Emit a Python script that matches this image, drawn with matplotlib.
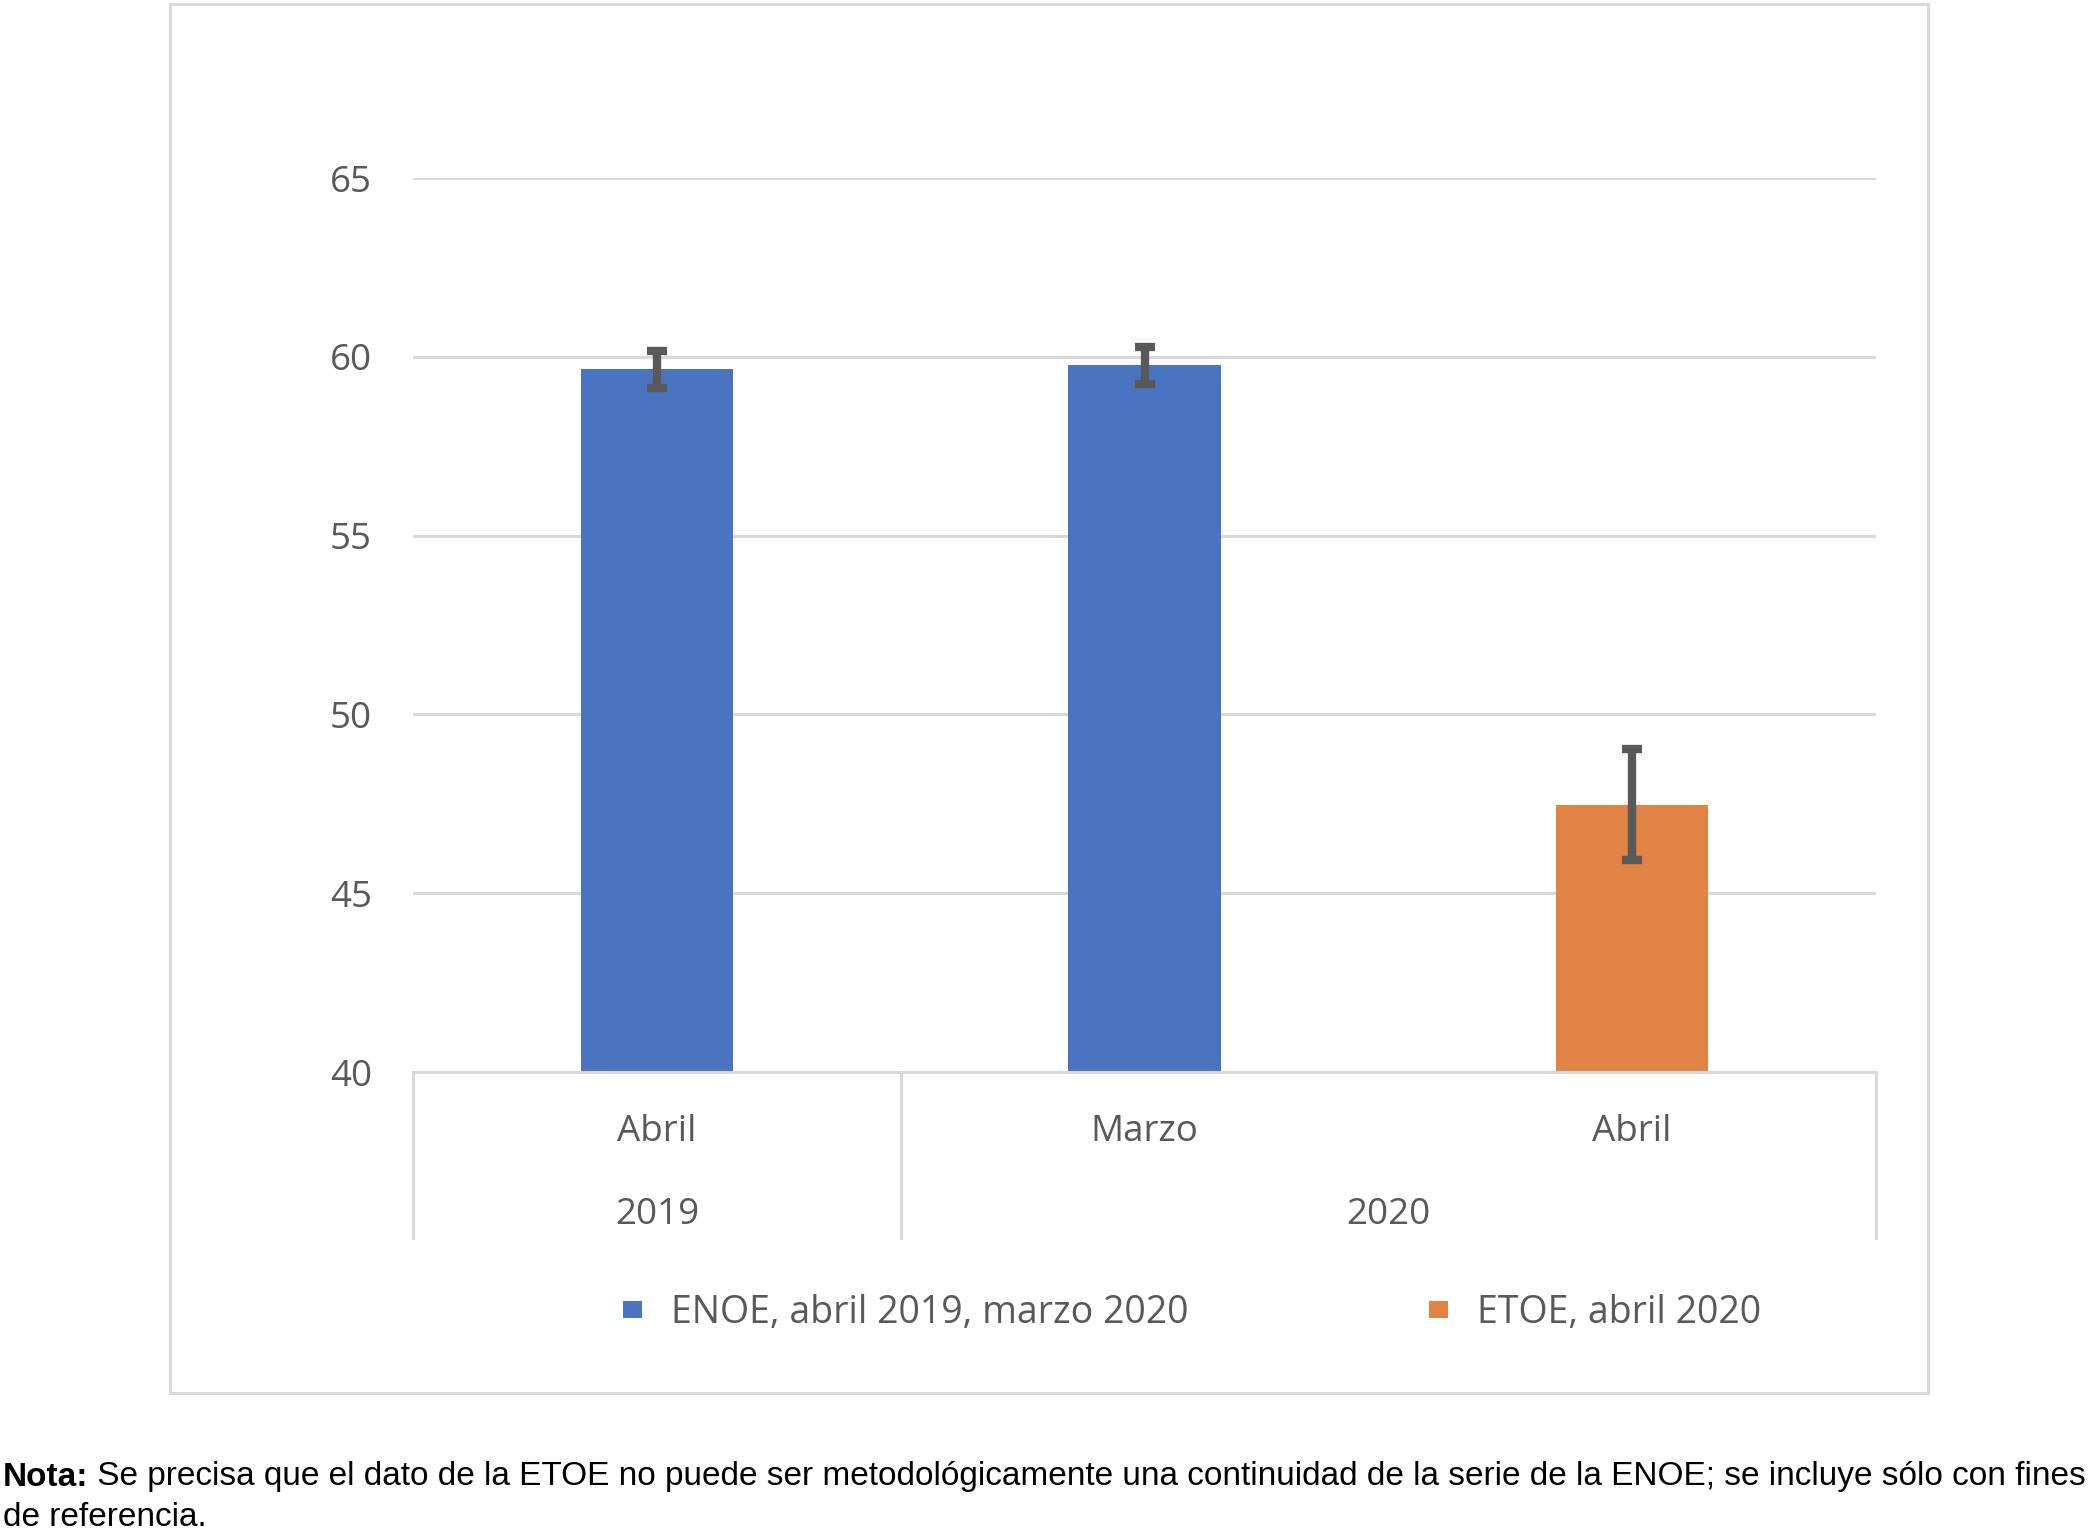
import matplotlib
matplotlib.use("Agg")
import matplotlib.pyplot as plt
from matplotlib.patches import Patch, Rectangle
from matplotlib.lines import Line2D

# ---- data ----
months = ["Abril", "Marzo", "Abril"]
years = ["2019", "2020"]
year_span = [(0, 0), (1, 2)]          # category index range of each year
values = [59.65, 59.76, 47.47]
errors = [0.52, 0.52, 1.55]
series = ["ENOE", "ENOE", "ETOE"]
legend_labels = ["ENOE, abril 2019, marzo 2020", "ETOE, abril 2020"]
yticks = [40, 45, 50, 55, 60, 65]
note_bold = "Nota:"
note_line1 = " Se precisa que el dato de la ETOE no puede ser metodológicamente una continuidad de la serie de la ENOE; se incluye sólo con fines"
note_line2 = "de referencia."

# ---- style ----
W, H, DPI = 2098, 1536, 100
BLUE = "#4a74bf"
ORANGE = "#e08344"
GRID = "#d9d9d9"
TXT = "#595959"
colors = {"ENOE": BLUE, "ETOE": ORANGE}

fig = plt.figure(figsize=(W / DPI, H / DPI), dpi=DPI)
plt.rcParams["font.family"] = ["Open Sans", "DejaVu Sans"]

def fx(px):
    return px / W

def fy(py):
    return 1 - py / H

# outer chart frame
fig.patches.append(Rectangle((fx(170), fy(1393)), fx(1928) - fx(170), fy(4) - fy(1393),
                             transform=fig.transFigure, fill=False, edgecolor=GRID,
                             linewidth=2.2, zorder=0))

left, right, top, bottom = 413, 1876, 178, 1072
ax = fig.add_axes([fx(left), fy(bottom), fx(right) - fx(left), fy(top) - fy(bottom)])

x = list(range(len(values)))
ax.bar(x, values, width=0.313, color=[colors[s] for s in series], zorder=2)
ax.errorbar(x, values, yerr=errors, fmt="none", ecolor=TXT, elinewidth=6,
            capsize=7.5, capthick=6, zorder=3)

ax.set_xlim(-0.5, len(values) - 0.5)
ax.set_ylim(yticks[0], yticks[-1])
ax.set_yticks(yticks)
ax.set_yticklabels([str(t) for t in yticks], fontsize=26.5, color=TXT)
ax.tick_params(axis="y", length=0, pad=29.5)
ax.tick_params(axis="x", length=0, labelbottom=False)
ax.grid(axis="y", color=GRID, linewidth=2.2, zorder=0)
ax.set_axisbelow(True)
for s in ["left", "right", "top"]:
    ax.spines[s].set_visible(False)
ax.spines["bottom"].set_color(GRID)
ax.spines["bottom"].set_linewidth(2.2)
ax.spines["bottom"].set_zorder(4)

# multi-level category axis
tr = ax.get_xaxis_transform()
ah = bottom - top
y_month = -(1132 - bottom) / ah
y_year = -(1215 - bottom) / ah
y_sep = -(1238 - bottom) / ah
for i, m in enumerate(months):
    ax.text(i, y_month, m, transform=tr, ha="center", va="center", fontsize=26.5, color=TXT)
seps = {-0.5}
for yname, (a, b) in zip(years, year_span):
    ax.text((a + b) / 2, y_year, yname, transform=tr, ha="center", va="center",
            fontsize=26.5, color=TXT)
    seps.add(a - 0.5)
    seps.add(b + 0.5)
for s in sorted(seps):
    ax.add_line(Line2D([s, s], [0, y_sep], transform=tr, color=GRID, linewidth=2.2,
                       clip_on=False))

# legend (two anchored entries)
aw = right - left
y_leg = -(1313 - bottom) / ah
leg_x = [(623 - left) / aw, (1429 - left) / aw]
leg_colors = [BLUE, ORANGE]
legs = []
for lab, c, lx in zip(legend_labels, leg_colors, leg_x):
    lg = ax.legend(handles=[Patch(facecolor=c, edgecolor="none", label=lab)],
                   loc="center left", bbox_to_anchor=(lx, y_leg), frameon=False,
                   fontsize=27, labelcolor=TXT, handlelength=0.5, handleheight=0.3,
                   handletextpad=0.78, borderpad=0, borderaxespad=0)
    legs.append(lg)
for lg in legs[:-1]:
    ax.add_artist(lg)

# note
nf = ["Liberation Sans", "DejaVu Sans"]
NFS = 24
t1 = fig.text(fx(3), fy(1477), note_bold, fontsize=NFS, fontweight="bold", family=nf,
              ha="left", va="center", color="black")
renderer = fig.canvas.get_renderer()
bb = t1.get_window_extent(renderer=renderer)
fig.text(bb.x1 / W, fy(1477), note_line1, fontsize=NFS, family=nf, ha="left",
         va="center", color="black")
fig.text(fx(3), fy(1517), note_line2, fontsize=NFS, family=nf, ha="left", va="center",
         color="black")

fig.savefig("out.png", dpi=DPI)
